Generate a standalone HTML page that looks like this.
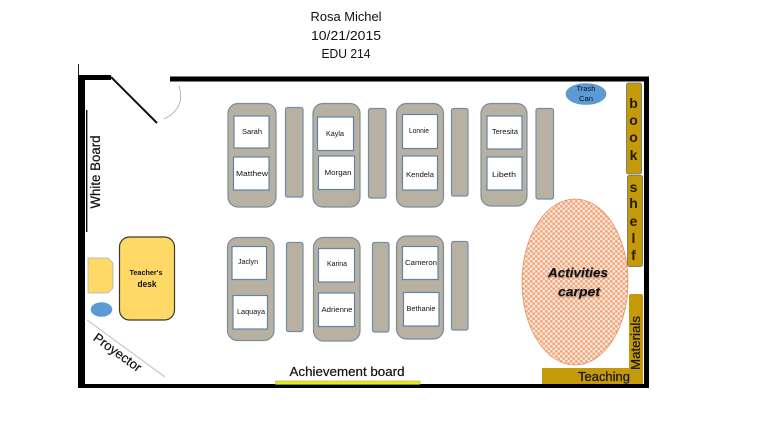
<!DOCTYPE html>
<html><head><meta charset="utf-8"><style>
html,body{margin:0;padding:0;background:#fff;width:768px;height:433px;overflow:hidden}
svg{display:block;filter:blur(0.35px)}
text{font-family:"Liberation Sans",sans-serif;fill:#111;text-anchor:middle}
.d{fill:#b8b0a0;stroke:#7d8c9c;stroke-width:1.2}
.p{fill:#b8b0a0;stroke:#6f8fa8;stroke-width:1.2}
.c{fill:#fff;stroke:#5f84a8;stroke-width:1.2}
.n{font-size:7px}
.b{fill:#c49a0a;stroke:#7f8070;stroke-width:1}
.s{font-size:14px;font-weight:bold;fill:#241c04}
</style></head><body>
<svg width="768" height="433" viewBox="0 0 768 433" xmlns="http://www.w3.org/2000/svg">
<defs>
<pattern id="dots" width="5" height="5" patternUnits="userSpaceOnUse">
<rect width="5" height="5" fill="#fdeadf"/>
<circle cx="1.250" cy="1.250" r="1.500" fill="#f2a97f"/>
<circle cx="3.750" cy="3.750" r="1.500" fill="#f2a97f"/>
</pattern>
<filter id="soft" x="-30%" y="-30%" width="160%" height="160%"><feGaussianBlur stdDeviation="0.9"/></filter>
</defs>

<text x="346" y="21" font-size="12.5" textLength="71" lengthAdjust="spacingAndGlyphs">Rosa Michel</text>
<text x="346" y="40" font-size="12.5" textLength="70" lengthAdjust="spacingAndGlyphs">10/21/2015</text>
<text x="346" y="58" font-size="12.5" textLength="49" lengthAdjust="spacingAndGlyphs">EDU 214</text>

<!-- walls -->
<rect x="78" y="75" width="33" height="5" fill="#000"/>
<rect x="78" y="64" width="1" height="11" fill="#222"/>
<rect x="78" y="75" width="7" height="313" fill="#000"/>
<rect x="170" y="76.500" width="479" height="5" fill="#000"/>
<rect x="644" y="77" width="5" height="311" fill="#000"/>
<rect x="78" y="384" width="571" height="4" fill="#000"/>

<!-- door -->
<line x1="111" y1="77" x2="157" y2="123" stroke="#111" stroke-width="2"/>
<path d="M164 119 Q186 108 179 86" fill="none" stroke="#aaa" stroke-width="0.8"/>

<!-- white board -->
<rect x="86" y="110" width="1.400" height="122" fill="#111"/>
<text transform="translate(100,172) rotate(-90)" font-size="13.5" font-weight="500" stroke="#111" stroke-width="0.2" textLength="73" lengthAdjust="spacingAndGlyphs">White Board</text>

<!-- top row -->
<rect class="d" x="228" y="103.500" width="48" height="103.500" rx="10"/>
<rect class="c" x="234" y="116" width="35" height="32"/>
<text class="n" x="252" y="134" textLength="20" lengthAdjust="spacingAndGlyphs">Sarah</text>
<rect class="c" x="233.500" y="157" width="35.500" height="33"/>
<text class="n" x="252" y="176" textLength="32" lengthAdjust="spacingAndGlyphs">Matthew</text>
<rect class="p" x="285.500" y="107.500" width="17.500" height="89.500" rx="2"/>

<rect class="d" x="313" y="103.500" width="47" height="103.500" rx="10"/>
<rect class="c" x="317.500" y="117" width="36" height="33.500"/>
<text class="n" x="335" y="136" textLength="18" lengthAdjust="spacingAndGlyphs">Kayla</text>
<rect class="c" x="318.500" y="156" width="36" height="33.500"/>
<text class="n" x="338" y="175" textLength="27" lengthAdjust="spacingAndGlyphs">Morgan</text>
<rect class="p" x="368.500" y="108.500" width="17.500" height="89.500" rx="2"/>

<rect class="d" x="396.500" y="103.500" width="47" height="103.500" rx="10"/>
<rect class="c" x="402.500" y="114.500" width="35" height="34"/>
<text class="n" x="419" y="133" textLength="20" lengthAdjust="spacingAndGlyphs">Lonnie</text>
<rect class="c" x="402.500" y="156" width="35" height="34"/>
<text class="n" x="420" y="177" textLength="28" lengthAdjust="spacingAndGlyphs">Kendela</text>
<rect class="p" x="451.500" y="108.500" width="16.500" height="87.500" rx="2"/>

<rect class="d" x="481" y="103.500" width="46" height="102.500" rx="10"/>
<rect class="c" x="487" y="116" width="35" height="33"/>
<text class="n" x="505" y="134" textLength="26" lengthAdjust="spacingAndGlyphs">Teresita</text>
<rect class="c" x="487" y="157" width="35" height="33"/>
<text class="n" x="504" y="177" textLength="24" lengthAdjust="spacingAndGlyphs">Libeth</text>
<rect class="p" x="536" y="108.500" width="17.500" height="90.500" rx="2"/>

<!-- bottom row -->
<rect class="d" x="227.500" y="237.500" width="46.500" height="103" rx="10"/>
<rect class="c" x="232" y="246.500" width="34.500" height="33"/>
<text class="n" x="248" y="264" textLength="20" lengthAdjust="spacingAndGlyphs">Jaclyn</text>
<rect class="c" x="233" y="295.500" width="34.500" height="33.500"/>
<text class="n" x="251" y="314" textLength="28" lengthAdjust="spacingAndGlyphs">Laquaya</text>
<rect class="p" x="286.500" y="242.500" width="16.500" height="89" rx="2"/>

<rect class="d" x="313.500" y="237.500" width="46.500" height="103.500" rx="10"/>
<rect class="c" x="318.500" y="248.500" width="36" height="33.500"/>
<text class="n" x="337" y="266" textLength="20" lengthAdjust="spacingAndGlyphs">Karina</text>
<rect class="c" x="318.500" y="293" width="36" height="33.500"/>
<text class="n" x="337" y="312" textLength="31" lengthAdjust="spacingAndGlyphs">Adrienne</text>
<rect class="p" x="372.500" y="242.500" width="16.500" height="89.500" rx="2"/>

<rect class="d" x="396.500" y="236" width="47" height="103" rx="10"/>
<rect class="c" x="402.500" y="246.500" width="35.500" height="33"/>
<text class="n" x="421" y="265" textLength="32" lengthAdjust="spacingAndGlyphs">Cameron</text>
<rect class="c" x="403.500" y="292.500" width="35.500" height="33.500"/>
<text class="n" x="421" y="311" textLength="29" lengthAdjust="spacingAndGlyphs">Bethanie</text>
<rect class="p" x="451.500" y="241.500" width="16.500" height="88.500" rx="2"/>

<!-- teacher area -->
<rect x="119.500" y="237" width="55" height="83" rx="10" fill="#ffd966" stroke="#3a3a2a" stroke-width="1.200"/>
<text x="146" y="275" font-size="7.500" font-weight="bold" textLength="33" lengthAdjust="spacingAndGlyphs" fill="#5a4a18">Teacher's</text>
<text x="147" y="287" font-size="9" font-weight="bold" textLength="19" lengthAdjust="spacingAndGlyphs" fill="#2e2608">desk</text>
<polygon points="88,258 108,258 113,263 113,288 108,293 88,293" fill="#ffd966" stroke="#a9b4c0" stroke-width="0.8"/>
<ellipse cx="101.500" cy="309.500" rx="10.500" ry="7" fill="#5b9bd5" stroke="#6f9fc8" stroke-width="0.6"/>
<line x1="87" y1="320" x2="165" y2="377" stroke="#c8c8c8" stroke-width="1.200"/>
<text transform="translate(115,356) rotate(36)" font-size="13" stroke="#111" stroke-width="0.2" textLength="56" lengthAdjust="spacingAndGlyphs">Proyector</text>

<!-- achievement -->
<text x="347" y="376" font-size="13" stroke="#111" stroke-width="0.2" textLength="115" lengthAdjust="spacingAndGlyphs">Achievement board</text>
<rect x="275.500" y="381" width="144.500" height="3.500" fill="#e6ec1a" stroke="#9a9a50" stroke-width="0.5"/>

<!-- trash -->
<ellipse cx="586" cy="94" rx="20" ry="10.500" fill="#5b9bd5" stroke="#5a8fc0" stroke-width="0.6"/>
<text x="586" y="91" font-size="7" textLength="19" lengthAdjust="spacingAndGlyphs" fill="#333">Trash</text>
<text x="586" y="101" font-size="7" textLength="14" lengthAdjust="spacingAndGlyphs" fill="#333">Can</text>

<!-- bookshelf -->
<rect class="b" x="626.500" y="83" width="15" height="91" rx="2"/>
<rect class="b" x="627.500" y="175.500" width="15" height="91" rx="2"/>
<text class="s" x="633.500" y="108">b</text>
<text class="s" x="633.500" y="125">o</text>
<text class="s" x="633.500" y="142">o</text>
<text class="s" x="633.500" y="160">k</text>
<text class="s" x="633.500" y="192">s</text>
<text class="s" x="633.500" y="208">h</text>
<text class="s" x="633.500" y="226">e</text>
<text class="s" x="633.500" y="243">l</text>
<text class="s" x="633.500" y="260">f</text>

<!-- carpet -->
<ellipse cx="575" cy="282" rx="53" ry="83" fill="url(#dots)" stroke="#e58f60" stroke-width="0.8"/>
<g filter="url(#soft)" opacity=".55">
<text x="578" y="278" font-size="13" font-weight="bold" font-style="italic" textLength="60" lengthAdjust="spacingAndGlyphs" fill="#333">Activities</text>
<text x="579" y="297" font-size="13" font-weight="bold" font-style="italic" textLength="42" lengthAdjust="spacingAndGlyphs" fill="#333">carpet</text>
</g>
<text x="578" y="277" font-size="13" font-weight="bold" font-style="italic" textLength="60" lengthAdjust="spacingAndGlyphs" fill="#111">Activities</text>
<text x="579" y="296" font-size="13" font-weight="bold" font-style="italic" textLength="42" lengthAdjust="spacingAndGlyphs" fill="#111">carpet</text>

<!-- teaching materials -->
<path d="M542 368H629V296Q629 294 631 294H641Q643 294 643 296V384H542Z" fill="#c49a0a"/>
<text x="604" y="381" font-size="13" stroke="#2a2208" stroke-width="0.25" textLength="52" lengthAdjust="spacingAndGlyphs" fill="#2a2208">Teaching</text>
<text transform="translate(640,343) rotate(-90)" font-size="13" stroke="#2a2208" stroke-width="0.25" textLength="54" lengthAdjust="spacingAndGlyphs" fill="#2a2208">Materials</text>
</svg>
</body></html>
